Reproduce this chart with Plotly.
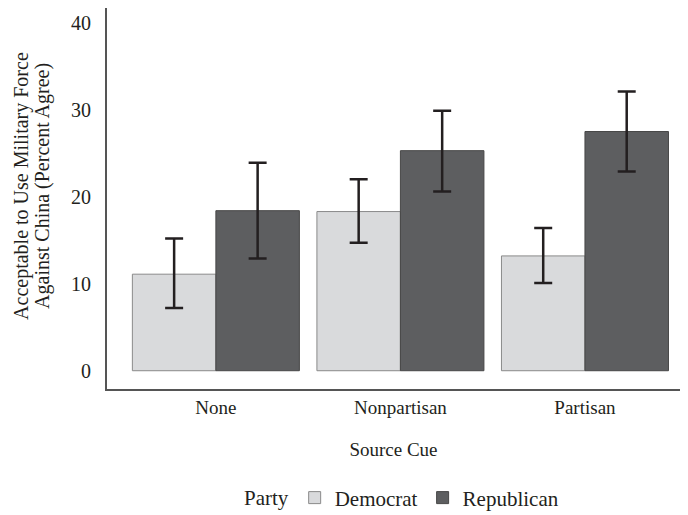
import plotly.graph_objects as go

categories = ["None", "Nonpartisan", "Partisan"]
dem_values = [11.1, 18.3, 13.2]
dem_upper = [15.2, 22.0, 16.4]
dem_lower = [7.2, 14.7, 10.1]
rep_values = [18.4, 25.3, 27.5]
rep_upper = [23.9, 29.9, 32.1]
rep_lower = [12.9, 20.6, 22.9]
y_ticks = [0, 10, 20, 30, 40]
y_title_lines = ["Acceptable to Use Military Force", "Against China (Percent Agree)"]

FONT = "Liberation Serif"
err_color = "#231f20"

fig = go.Figure()
fig.add_trace(go.Bar(
    x=categories, y=dem_values, name="Democrat",
    marker=dict(color="#d9dadc", line=dict(color="#8a8a8a", width=1)),
    error_y=dict(type="data", symmetric=False,
                 array=[u - v for u, v in zip(dem_upper, dem_values)],
                 arrayminus=[v - l for v, l in zip(dem_values, dem_lower)],
                 color=err_color, thickness=2.5, width=9),
))
fig.add_trace(go.Bar(
    x=categories, y=rep_values, name="Republican",
    marker=dict(color="#5d5e60", line=dict(color="#474747", width=1)),
    error_y=dict(type="data", symmetric=False,
                 array=[u - v for u, v in zip(rep_upper, rep_values)],
                 arrayminus=[v - l for v, l in zip(rep_values, rep_lower)],
                 color=err_color, thickness=2.5, width=9),
))

annotations = [dict(text="Party", xref="paper", yref="paper", x=0.2356, xanchor="left",
                    y=-0.286, yanchor="middle", showarrow=False, font=dict(size=21))]
for txt, shift in zip(y_title_lines, [-85, -64]):
    annotations.append(dict(text=txt, xref="paper", yref="paper", x=0, y=0.533,
                            xanchor="center", yanchor="middle", xshift=shift,
                            textangle=-90, showarrow=False, font=dict(size=20)))

fig.update_layout(
    width=680, height=507,
    margin=dict(l=99, r=8, t=0, b=126, autoexpand=False),
    paper_bgcolor="white", plot_bgcolor="white",
    font=dict(family=FONT, size=19, color="#231f20"),
    barmode="group", bargap=0.095, bargroupgap=0,
    showlegend=True,
    legend=dict(orientation="h", x=0.3275, xanchor="left", y=-0.286, yanchor="middle",
                font=dict(size=21), bgcolor="rgba(0,0,0,0)"),
    annotations=annotations,
    xaxis=dict(range=[-0.59, 2.515], showgrid=False, zeroline=False, automargin=False,
               showline=True, linecolor="#555555", linewidth=2,
               ticks="", ticklabelstandoff=0,
               title=dict(text="Source Cue", font=dict(size=19), standoff=26)),
    yaxis=dict(range=[-2.1, 41.7], tickvals=y_ticks, showgrid=False, zeroline=False,
               automargin=False,
               showline=True, linecolor="#555555", linewidth=2,
               ticks="", ticklabelstandoff=10, tickfont=dict(size=20)),
)

fig.write_html("out.html")
